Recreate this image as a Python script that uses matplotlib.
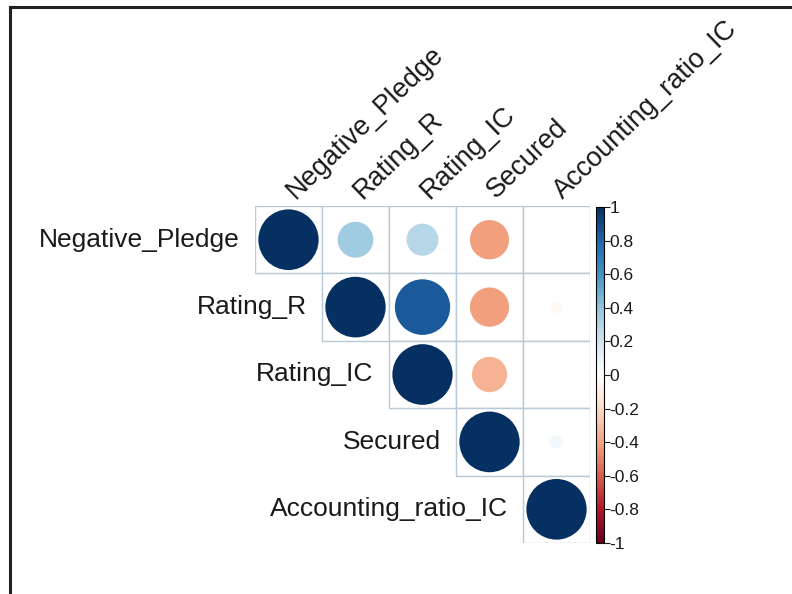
import numpy as np
import matplotlib
matplotlib.use("Agg")
import matplotlib.pyplot as plt
from matplotlib.colors import LinearSegmentedColormap, Normalize
from matplotlib.patches import Ellipse, Rectangle
from matplotlib.lines import Line2D
import matplotlib.colorbar as mcolorbar

plt.rcParams['font.family'] = ['Liberation Sans', 'DejaVu Sans']

# variables and upper-triangle correlations (row i, col j, j > i)
labels = ["Negative_Pledge", "Rating_R", "Rating_IC", "Secured", "Accounting_ratio_IC"]
row_np = [0.35, 0.28, -0.42, 0.0]
row_rr = [0.84, -0.42, -0.04]
row_ric = [-0.34, -0.01]
row_sec = [0.05]
cbar_ticks = [1, 0.8, 0.6, 0.4, 0.2, 0, -0.2, -0.4, -0.6, -0.8, -1]

n = len(labels)
corr = np.eye(n)
for i, row in enumerate([row_np, row_rr, row_ric, row_sec]):
    for k, v in enumerate(row):
        corr[i, i + 1 + k] = v
        corr[i + 1 + k, i] = v

# corrplot's RdBu palette
cmap = LinearSegmentedColormap.from_list("rdbu", [
    "#67001F", "#B2182B", "#D6604D", "#F4A582", "#FDDBC7", "#FFFFFF",
    "#D1E5F0", "#92C5DE", "#4393C3", "#2166AC", "#053061"], N=200)
norm = Normalize(-1, 1)

W, H = 792, 594
fig = plt.figure(figsize=(W / 100, H / 100), dpi=100)

# grid area in pixels
gx0, gx1, gy0, gy1 = 255, 590, 206, 543
ax = fig.add_axes([gx0 / W, 1 - gy1 / H, (gx1 - gx0) / W, (gy1 - gy0) / H])
ax.set_xlim(0, n)
ax.set_ylim(n, 0)
ax.axis('off')

grid_col = "#b7c9d6"
for i in range(n):
    for j in range(i, n):
        ax.add_patch(Rectangle((j, i), 1, 1, facecolor='white', edgecolor=grid_col, lw=1.0, zorder=1))
        r = corr[i, j]
        d = 0.9 * np.sqrt(abs(r))
        if d > 0:
            ax.add_patch(Ellipse((j + 0.5, i + 0.5), d, d, facecolor=cmap(norm(r)),
                                 edgecolor='none', zorder=2))

# row labels
for i, lab in enumerate(labels):
    ax.text(i - 0.23, i + 0.5, lab, ha='right', va='center', fontsize=19, color='#1a1a1a',
            clip_on=False)

# column labels
for j, lab in enumerate(labels):
    ax.text(j + 0.6, -0.1, lab, ha='left', va='baseline', rotation=44,
            rotation_mode='anchor', fontsize=19.5, color='#1a1a1a', clip_on=False)

# colorbar
cax = fig.add_axes([596 / W, 1 - 543 / H, 8 / W, (543 - 207) / H])
cb = mcolorbar.ColorbarBase(cax, cmap=cmap, norm=norm, orientation='vertical')
cb.set_ticks(cbar_ticks)
cb.set_ticklabels([f"{t:g}" for t in cbar_ticks])
cb.outline.set_linewidth(0.8)
cax.tick_params(labelsize=12.5, length=4, width=0.8, pad=0, colors='#1a1a1a')

# outer frame (left and top only)
fig.add_artist(Line2D([10 / W, 10 / W], [0, 1 - 7 / H], color='#222222', lw=2.2))
fig.add_artist(Line2D([10 / W, 1], [1 - 7 / H, 1 - 7 / H], color='#222222', lw=2.2))

fig.savefig("out.png", dpi=100)
